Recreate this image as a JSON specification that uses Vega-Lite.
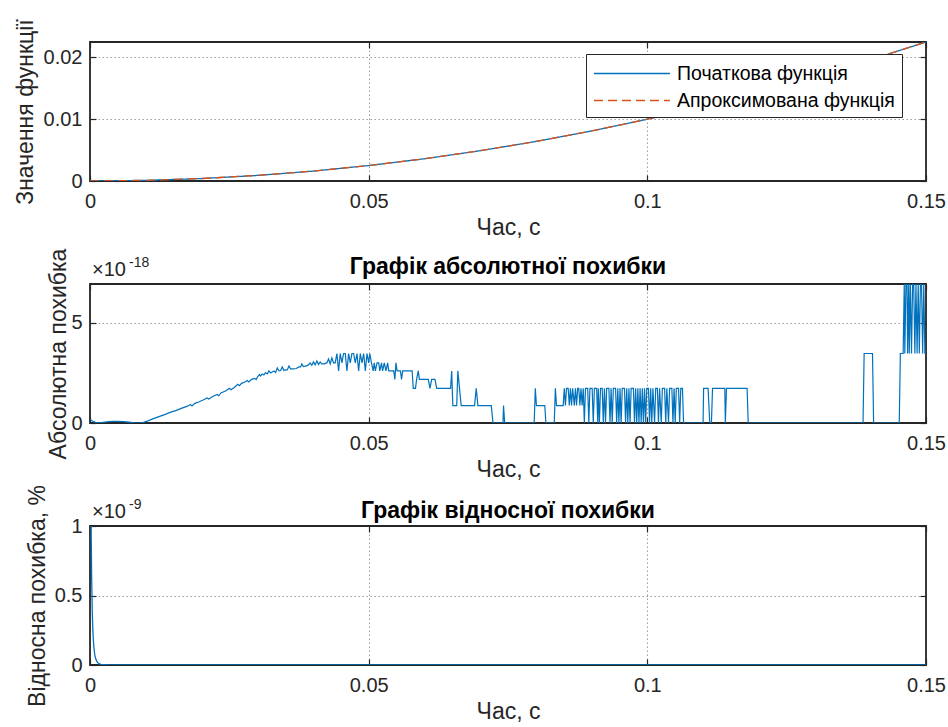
{
  "$schema": "https://vega.github.io/schema/vega-lite/v6.json",
  "background": "white",
  "padding": {"left": 13, "top": 14, "right": 2, "bottom": 2},
  "bounds": "flush",
  "spacing": 103,
  "config": {
    "font": "Liberation Sans",
    "view": {"stroke": "#262626", "strokeWidth": 1.8},
    "axis": {
      "labelFont": "Liberation Sans", "labelFontSize": 20, "labelColor": "#262626",
      "titleFont": "Liberation Sans", "titleFontSize": 23, "titleFontWeight": "normal", "titleColor": "#262626",
      "domain": false, "ticks": true, "tickSize": -6, "tickColor": "#262626", "tickWidth": 1.2,
      "grid": true, "gridColor": "#262626", "gridOpacity": 0.45, "gridDash": [1.5, 2.5], "gridWidth": 1,
      "labelFlush": false, "labelOverlap": false, "labelLimit": 0
    },
    "axisX": {"labelPadding": 16, "titlePadding": 5},
    "axisY": {"labelPadding": 14},
    "legend": {"labelLimit": 0}
  },
  "datasets": {
    "fn": [
      {"t": 0, "value": 0, "series": "Початкова функція"},
      {"t": 0.01, "value": 0.0001, "series": "Початкова функція"},
      {"t": 0.02, "value": 0.0004, "series": "Початкова функція"},
      {"t": 0.03, "value": 0.0009, "series": "Початкова функція"},
      {"t": 0.04, "value": 0.0016, "series": "Початкова функція"},
      {"t": 0.05, "value": 0.0025, "series": "Початкова функція"},
      {"t": 0.06, "value": 0.0036, "series": "Початкова функція"},
      {"t": 0.07, "value": 0.0049, "series": "Початкова функція"},
      {"t": 0.08, "value": 0.0064, "series": "Початкова функція"},
      {"t": 0.09, "value": 0.0081, "series": "Початкова функція"},
      {"t": 0.1, "value": 0.01, "series": "Початкова функція"},
      {"t": 0.11, "value": 0.0121, "series": "Початкова функція"},
      {"t": 0.12, "value": 0.0144, "series": "Початкова функція"},
      {"t": 0.13, "value": 0.0169, "series": "Початкова функція"},
      {"t": 0.14, "value": 0.0196, "series": "Початкова функція"},
      {"t": 0.15, "value": 0.0225, "series": "Початкова функція"},
      {"t": 0, "value": 0, "series": "Апроксимована функція"},
      {"t": 0.01, "value": 0.0001, "series": "Апроксимована функція"},
      {"t": 0.02, "value": 0.0004, "series": "Апроксимована функція"},
      {"t": 0.03, "value": 0.0009, "series": "Апроксимована функція"},
      {"t": 0.04, "value": 0.0016, "series": "Апроксимована функція"},
      {"t": 0.05, "value": 0.0025, "series": "Апроксимована функція"},
      {"t": 0.06, "value": 0.0036, "series": "Апроксимована функція"},
      {"t": 0.07, "value": 0.0049, "series": "Апроксимована функція"},
      {"t": 0.08, "value": 0.0064, "series": "Апроксимована функція"},
      {"t": 0.09, "value": 0.0081, "series": "Апроксимована функція"},
      {"t": 0.1, "value": 0.01, "series": "Апроксимована функція"},
      {"t": 0.11, "value": 0.0121, "series": "Апроксимована функція"},
      {"t": 0.12, "value": 0.0144, "series": "Апроксимована функція"},
      {"t": 0.13, "value": 0.0169, "series": "Апроксимована функція"},
      {"t": 0.14, "value": 0.0196, "series": "Апроксимована функція"},
      {"t": 0.15, "value": 0.0225, "series": "Апроксимована функція"}
    ],
    "abs": [
      {"t": 0, "err": 0.17}, {"t": 0.0005, "err": 0.09}, {"t": 0.001, "err": 0.03}, {"t": 0.0015, "err": 0}, {"t": 0.002, "err": 0.02}, {"t": 0.003, "err": 0.06}, {"t": 0.004, "err": 0.08}, {"t": 0.005, "err": 0.08}, {"t": 0.006, "err": 0.07}, {"t": 0.007, "err": 0.04}, {"t": 0.008, "err": 0.01}, {"t": 0.0088, "err": 0},
      {"t": 0.0095, "err": 0.02}, {"t": 0.0105, "err": 0.12}, {"t": 0.0115, "err": 0.23}, {"t": 0.0125, "err": 0.33}, {"t": 0.0135, "err": 0.43}, {"t": 0.0145, "err": 0.54}, {"t": 0.0155, "err": 0.63}, {"t": 0.0165, "err": 0.74}, {"t": 0.0175, "err": 0.84}, {"t": 0.018, "err": 0.92}, {"t": 0.0183, "err": 0.85}, {"t": 0.0188, "err": 0.98}, {"t": 0.0195, "err": 1.05}, {"t": 0.0205, "err": 1.17}, {"t": 0.021, "err": 1.25}, {"t": 0.0213, "err": 1.2}, {"t": 0.022, "err": 1.32}, {"t": 0.0228, "err": 1.42}, {"t": 0.0231, "err": 1.36}, {"t": 0.0235, "err": 1.5}, {"t": 0.0245, "err": 1.62}, {"t": 0.025, "err": 1.73}, {"t": 0.0253, "err": 1.66}, {"t": 0.026, "err": 1.8}, {"t": 0.0265, "err": 1.93}, {"t": 0.0268, "err": 1.86}, {"t": 0.0272, "err": 1.98}, {"t": 0.0278, "err": 2.05}, {"t": 0.0282, "err": 2.12}, {"t": 0.0285, "err": 2.05}, {"t": 0.029, "err": 2.18}, {"t": 0.0295, "err": 2.23}, {"t": 0.0298, "err": 2.17},
      {"t": 0.0301, "err": 2.32}, {"t": 0.0304, "err": 2.42}, {"t": 0.0306, "err": 2.35}, {"t": 0.0309, "err": 2.45}, {"t": 0.0312, "err": 2.4}, {"t": 0.0315, "err": 2.52}, {"t": 0.0318, "err": 2.45}, {"t": 0.0321, "err": 2.6}, {"t": 0.0324, "err": 2.5}, {"t": 0.0327, "err": 2.55}, {"t": 0.033, "err": 2.6}, {"t": 0.0333, "err": 2.52}, {"t": 0.0336, "err": 2.75}, {"t": 0.0339, "err": 2.6}, {"t": 0.0342, "err": 2.62}, {"t": 0.0345, "err": 2.8}, {"t": 0.0348, "err": 2.62}, {"t": 0.0351, "err": 2.65}, {"t": 0.0354, "err": 2.65}, {"t": 0.0357, "err": 2.85}, {"t": 0.036, "err": 2.7}, {"t": 0.0365, "err": 2.7}, {"t": 0.037, "err": 2.72}, {"t": 0.0375, "err": 2.8}, {"t": 0.0378, "err": 2.8}, {"t": 0.038, "err": 2.95}, {"t": 0.0383, "err": 2.82}, {"t": 0.0388, "err": 2.85}, {"t": 0.0392, "err": 2.9}, {"t": 0.0395, "err": 3.0}, {"t": 0.0398, "err": 2.88}, {"t": 0.0401, "err": 3.05}, {"t": 0.0404, "err": 2.9}, {"t": 0.0407, "err": 3.1}, {"t": 0.041, "err": 2.92}, {"t": 0.0413, "err": 3.05}, {"t": 0.0416, "err": 2.95}, {"t": 0.042, "err": 2.95}, {"t": 0.0425, "err": 3.0}, {"t": 0.0428, "err": 3.2}, {"t": 0.0431, "err": 2.95}, {"t": 0.0434, "err": 3.25}, {"t": 0.0437, "err": 3.0}, {"t": 0.044, "err": 3.0}, {"t": 0.0443, "err": 3.47}, {"t": 0.0446, "err": 2.6}, {"t": 0.0449, "err": 3.47}, {"t": 0.0452, "err": 3.0}, {"t": 0.0455, "err": 3.47}, {"t": 0.0458, "err": 3.47}, {"t": 0.0461, "err": 2.6}, {"t": 0.0464, "err": 3.47}, {"t": 0.0467, "err": 3.0}, {"t": 0.047, "err": 3.47}, {"t": 0.0473, "err": 3.47}, {"t": 0.0476, "err": 3.0}, {"t": 0.0479, "err": 3.47}, {"t": 0.0482, "err": 2.6}, {"t": 0.0485, "err": 3.47}, {"t": 0.0488, "err": 3.0}, {"t": 0.0491, "err": 3.47}, {"t": 0.0494, "err": 2.6}, {"t": 0.0497, "err": 3.47}, {"t": 0.05, "err": 3.0}, {"t": 0.0502, "err": 3.47},
      {"t": 0.0505, "err": 3.0}, {"t": 0.0508, "err": 2.6}, {"t": 0.051, "err": 3.0}, {"t": 0.0512, "err": 2.6}, {"t": 0.0515, "err": 3.0}, {"t": 0.0518, "err": 3.0}, {"t": 0.052, "err": 2.6}, {"t": 0.0523, "err": 3.0}, {"t": 0.0525, "err": 2.6}, {"t": 0.0528, "err": 3.0}, {"t": 0.0531, "err": 2.6}, {"t": 0.0534, "err": 3.0}, {"t": 0.0536, "err": 2.6}, {"t": 0.0545, "err": 2.6}, {"t": 0.0547, "err": 2.18}, {"t": 0.0549, "err": 3.0}, {"t": 0.0551, "err": 2.6}, {"t": 0.0557, "err": 2.6}, {"t": 0.0559, "err": 2.18}, {"t": 0.0561, "err": 2.6}, {"t": 0.0578, "err": 2.6}, {"t": 0.058, "err": 1.73}, {"t": 0.0584, "err": 1.73}, {"t": 0.0586, "err": 2.18}, {"t": 0.0589, "err": 2.6}, {"t": 0.0591, "err": 2.18}, {"t": 0.0607, "err": 2.18}, {"t": 0.061, "err": 1.73}, {"t": 0.0613, "err": 2.18}, {"t": 0.0619, "err": 2.18}, {"t": 0.0622, "err": 1.73}, {"t": 0.0647, "err": 1.73}, {"t": 0.0649, "err": 2.6}, {"t": 0.0651, "err": 0.87}, {"t": 0.0658, "err": 0.87}, {"t": 0.066, "err": 2.6}, {"t": 0.0663, "err": 1.73}, {"t": 0.0666, "err": 0.87}, {"t": 0.069, "err": 0.87}, {"t": 0.0693, "err": 1.73}, {"t": 0.0696, "err": 0.87}, {"t": 0.072, "err": 0.87}, {"t": 0.0723, "err": 0}, {"t": 0.0741, "err": 0}, {"t": 0.0742, "err": 0.87}, {"t": 0.0744, "err": 0}, {"t": 0.0797, "err": 0}, {"t": 0.0799, "err": 1.73}, {"t": 0.0801, "err": 0.87}, {"t": 0.0816, "err": 0.87}, {"t": 0.0818, "err": 0}, {"t": 0.0833, "err": 0}, {"t": 0.0835, "err": 1.73}, {"t": 0.0837, "err": 0.87}, {"t": 0.0849, "err": 0.87},
      {"t": 0.0851, "err": 1.73}, {"t": 0.0853, "err": 0.87}, {"t": 0.0855, "err": 1.73}, {"t": 0.0858, "err": 1.73}, {"t": 0.086, "err": 0.87}, {"t": 0.0862, "err": 1.73}, {"t": 0.0864, "err": 0.87}, {"t": 0.0866, "err": 1.73}, {"t": 0.0869, "err": 0.87}, {"t": 0.0871, "err": 1.73}, {"t": 0.0873, "err": 0.87}, {"t": 0.0875, "err": 1.73}, {"t": 0.0877, "err": 1.73}, {"t": 0.0879, "err": 0.87}, {"t": 0.0881, "err": 1.73}, {"t": 0.0883, "err": 0.87}, {"t": 0.0885, "err": 1.73},
      {"t": 0.0887, "err": 0}, {"t": 0.0889, "err": 1.73}, {"t": 0.0893, "err": 1.73}, {"t": 0.0895, "err": 0}, {"t": 0.0897, "err": 1.73}, {"t": 0.0901, "err": 1.73}, {"t": 0.0903, "err": 0}, {"t": 0.0905, "err": 1.73}, {"t": 0.0909, "err": 1.73}, {"t": 0.0911, "err": 0}, {"t": 0.0912, "err": 1.73}, {"t": 0.0914, "err": 0}, {"t": 0.0916, "err": 1.73}, {"t": 0.0919, "err": 1.73}, {"t": 0.0921, "err": 0}, {"t": 0.0923, "err": 1.73}, {"t": 0.0925, "err": 0}, {"t": 0.0927, "err": 1.73}, {"t": 0.0931, "err": 1.73}, {"t": 0.0933, "err": 0}, {"t": 0.0935, "err": 1.73}, {"t": 0.0937, "err": 0}, {"t": 0.0939, "err": 1.73}, {"t": 0.0943, "err": 1.73}, {"t": 0.0945, "err": 0}, {"t": 0.0947, "err": 1.73}, {"t": 0.0949, "err": 0}, {"t": 0.0951, "err": 1.73}, {"t": 0.0953, "err": 0}, {"t": 0.0955, "err": 1.73}, {"t": 0.0959, "err": 1.73}, {"t": 0.0961, "err": 0}, {"t": 0.0963, "err": 1.73}, {"t": 0.0965, "err": 0}, {"t": 0.0967, "err": 1.73}, {"t": 0.0969, "err": 0}, {"t": 0.0971, "err": 1.73}, {"t": 0.0975, "err": 1.73}, {"t": 0.0977, "err": 0}, {"t": 0.0979, "err": 1.73}, {"t": 0.0981, "err": 0}, {"t": 0.0983, "err": 1.73}, {"t": 0.0985, "err": 0}, {"t": 0.0987, "err": 1.73}, {"t": 0.0989, "err": 0}, {"t": 0.0991, "err": 1.73}, {"t": 0.0993, "err": 0}, {"t": 0.0995, "err": 1.73}, {"t": 0.0997, "err": 0}, {"t": 0.0999, "err": 1.73}, {"t": 0.1002, "err": 1.73}, {"t": 0.1004, "err": 0}, {"t": 0.1006, "err": 1.73}, {"t": 0.1008, "err": 0}, {"t": 0.101, "err": 1.73}, {"t": 0.1013, "err": 0}, {"t": 0.1015, "err": 1.73}, {"t": 0.1018, "err": 1.73}, {"t": 0.102, "err": 0}, {"t": 0.1022, "err": 1.73}, {"t": 0.1025, "err": 0}, {"t": 0.1027, "err": 1.73}, {"t": 0.1031, "err": 1.73}, {"t": 0.1033, "err": 0}, {"t": 0.1035, "err": 1.73}, {"t": 0.1038, "err": 0}, {"t": 0.104, "err": 1.73}, {"t": 0.1044, "err": 1.73}, {"t": 0.1046, "err": 0}, {"t": 0.1048, "err": 1.73}, {"t": 0.105, "err": 0}, {"t": 0.1052, "err": 1.73}, {"t": 0.1056, "err": 1.73}, {"t": 0.1058, "err": 0}, {"t": 0.106, "err": 1.73}, {"t": 0.1063, "err": 1.73}, {"t": 0.1065, "err": 0},
      {"t": 0.11, "err": 0}, {"t": 0.1101, "err": 1.73}, {"t": 0.1109, "err": 1.73}, {"t": 0.1112, "err": 0}, {"t": 0.1115, "err": 0}, {"t": 0.1117, "err": 1.73}, {"t": 0.1139, "err": 1.73}, {"t": 0.114, "err": 0}, {"t": 0.1142, "err": 1.73}, {"t": 0.1179, "err": 1.73}, {"t": 0.1181, "err": 0}, {"t": 0.1387, "err": 0}, {"t": 0.1389, "err": 3.47}, {"t": 0.1404, "err": 3.47}, {"t": 0.1406, "err": 0}, {"t": 0.1452, "err": 0}, {"t": 0.1454, "err": 3.47}, {"t": 0.1459, "err": 3.47},
      {"t": 0.1461, "err": 6.94}, {"t": 0.1462, "err": 3.47}, {"t": 0.1464, "err": 6.94}, {"t": 0.1466, "err": 6.94}, {"t": 0.1467, "err": 3.47}, {"t": 0.1469, "err": 6.94}, {"t": 0.147, "err": 3.47}, {"t": 0.1472, "err": 6.94}, {"t": 0.1474, "err": 3.47}, {"t": 0.1476, "err": 6.94}, {"t": 0.1478, "err": 6.94}, {"t": 0.148, "err": 3.47}, {"t": 0.1482, "err": 6.94}, {"t": 0.1484, "err": 3.47}, {"t": 0.1486, "err": 6.94}, {"t": 0.1488, "err": 3.47}, {"t": 0.149, "err": 6.94}, {"t": 0.1492, "err": 6.94}, {"t": 0.1494, "err": 3.47}, {"t": 0.1496, "err": 6.94}, {"t": 0.1498, "err": 3.47}, {"t": 0.15, "err": 3.47}
    ],
    "rel": [
      {"t": 0.0002, "rel": 1.0}, {"t": 0.0003, "rel": 0.62}, {"t": 0.0004, "rel": 0.4}, {"t": 0.0005, "rel": 0.26}, {"t": 0.0006, "rel": 0.18}, {"t": 0.0007, "rel": 0.13}, {"t": 0.0008, "rel": 0.09}, {"t": 0.0009, "rel": 0.065}, {"t": 0.001, "rel": 0.048}, {"t": 0.0012, "rel": 0.028}, {"t": 0.0014, "rel": 0.016}, {"t": 0.0017, "rel": 0.008}, {"t": 0.002, "rel": 0.005}, {"t": 0.003, "rel": 0.002}, {"t": 0.005, "rel": 0.0007}, {"t": 0.01, "rel": 0.0002}, {"t": 0.03, "rel": 0.00003}, {"t": 0.05, "rel": 0.00001}, {"t": 0.1, "rel": 0.000003}, {"t": 0.15, "rel": 0.000001}
    ],
    "head2": [{"base": "×10", "power": "-18", "heading": "Графік абсолютної похибки"}],
    "head3": [{"base": "×10", "power": "-9", "heading": "Графік відносної похибки"}]
  },
  "vconcat": [
    {
      "width": 836, "height": 139,
      "resolve": {"axis": {"x": "independent", "y": "independent"}},
      "layer": [
        {
          "data": {"name": "fn"},
          "mark": {"type": "line", "strokeWidth": 1.3, "clip": true},
          "encoding": {
            "x": {"field": "t", "type": "quantitative", "scale": {"domain": [0, 0.15], "nice": false, "zero": false},
                  "axis": {"orient": "bottom", "values": [0, 0.05, 0.1, 0.15], "format": ".2~f", "title": "Час, с"}},
            "y": {"field": "value", "type": "quantitative", "scale": {"domain": [0, 0.0225], "nice": false},
                  "axis": {"orient": "left", "values": [0, 0.01, 0.02], "format": ".2~f", "title": "Значення  функції", "titlePadding": 6}},
            "color": {"field": "series", "type": "nominal",
                      "scale": {"domain": ["Початкова функція", "Апроксимована функція"], "range": ["#0072BD", "#D95319"]},
                      "legend": {"title": null, "orient": "none", "legendX": 496, "legendY": 12, "fillColor": "white", "strokeColor": "#262626", "padding": 7, "labelFontSize": 19.5, "labelColor": "black", "labelFont": "Liberation Sans", "labelLimit": 0, "symbolType": "M-1,0H5.6", "symbolSize": 529, "symbolStrokeWidth": 1.5, "rowPadding": 5, "labelOffset": 59}},
            "strokeDash": {"field": "series", "type": "nominal",
                      "scale": {"domain": ["Початкова функція", "Апроксимована функція"], "range": [[1, 0], [9, 5]]},
                      "legend": {"title": null, "orient": "none", "legendX": 496, "legendY": 12, "fillColor": "white", "strokeColor": "#262626", "padding": 7, "labelFontSize": 19.5, "labelColor": "black", "labelFont": "Liberation Sans", "labelLimit": 0, "symbolType": "M-1,0H5.6", "symbolSize": 529, "symbolStrokeWidth": 1.5, "rowPadding": 5, "labelOffset": 59}}
          }
        },
        {
          "data": {"name": "fn"},
          "mark": {"type": "point", "opacity": 0},
          "encoding": {
            "x": {"field": "t", "type": "quantitative", "axis": {"orient": "top", "values": [0, 0.05, 0.1, 0.15], "labels": false, "grid": false, "title": null}},
            "y": {"field": "value", "type": "quantitative", "axis": {"orient": "right", "values": [0, 0.01, 0.02], "labels": false, "grid": false, "title": null}}
          }
        }
      ]
    },
    {
      "width": 836, "height": 139,
      "resolve": {"axis": {"x": "independent", "y": "independent"}},
      "layer": [
        {
          "data": {"name": "abs"},
          "mark": {"type": "line", "strokeWidth": 1.2, "color": "#0072BD", "clip": true},
          "encoding": {
            "x": {"field": "t", "type": "quantitative", "scale": {"domain": [0, 0.15], "nice": false, "zero": false},
                  "axis": {"orient": "bottom", "values": [0, 0.05, 0.1, 0.15], "format": ".2~f", "title": "Час, с"}},
            "y": {"field": "err", "type": "quantitative", "scale": {"domain": [0, 6.94], "nice": false},
                  "axis": {"orient": "left", "values": [0, 5], "format": "~g", "title": "Абсолютна похибка", "titlePadding": 0}}
          }
        },
        {
          "data": {"name": "abs"},
          "mark": {"type": "point", "opacity": 0},
          "encoding": {
            "x": {"field": "t", "type": "quantitative", "axis": {"orient": "top", "values": [0, 0.05, 0.1, 0.15], "labels": false, "grid": false, "title": null}},
            "y": {"field": "err", "type": "quantitative", "axis": {"orient": "right", "values": [0, 5], "labels": false, "grid": false, "title": null}}
          }
        },
        {
          "data": {"name": "head2"},
          "mark": {"type": "text", "align": "left", "baseline": "alphabetic", "fontSize": 20, "color": "#262626", "dx": 2, "dy": -8},
          "encoding": {"x": {"datum": 0, "axis": null}, "y": {"datum": 6.94, "axis": null}, "text": {"field": "base"}}
        },
        {
          "data": {"name": "head2"},
          "mark": {"type": "text", "align": "left", "baseline": "alphabetic", "fontSize": 14, "color": "#262626", "dx": 39, "dy": -17},
          "encoding": {"x": {"datum": 0, "axis": null}, "y": {"datum": 6.94, "axis": null}, "text": {"field": "power"}}
        },
        {
          "data": {"name": "head2"},
          "mark": {"type": "text", "align": "center", "baseline": "alphabetic", "fontSize": 23, "fontWeight": "bold", "color": "black", "dy": -10},
          "encoding": {"x": {"datum": 0.075, "axis": null}, "y": {"datum": 6.94, "axis": null}, "text": {"field": "heading"}}
        }
      ]
    },
    {
      "width": 836, "height": 139,
      "resolve": {"axis": {"x": "independent", "y": "independent"}},
      "layer": [
        {
          "data": {"name": "rel"},
          "mark": {"type": "line", "strokeWidth": 1.3, "color": "#0072BD", "clip": true},
          "encoding": {
            "x": {"field": "t", "type": "quantitative", "scale": {"domain": [0, 0.15], "nice": false, "zero": false},
                  "axis": {"orient": "bottom", "values": [0, 0.05, 0.1, 0.15], "format": ".2~f", "title": "Час, с"}},
            "y": {"field": "rel", "type": "quantitative", "scale": {"domain": [0, 1], "nice": false},
                  "axis": {"orient": "left", "values": [0, 0.5, 1], "format": "~g", "title": "Відносна похибка, %", "titlePadding": 5}}
          }
        },
        {
          "data": {"name": "rel"},
          "mark": {"type": "point", "opacity": 0},
          "encoding": {
            "x": {"field": "t", "type": "quantitative", "axis": {"orient": "top", "values": [0, 0.05, 0.1, 0.15], "labels": false, "grid": false, "title": null}},
            "y": {"field": "rel", "type": "quantitative", "axis": {"orient": "right", "values": [0, 0.5, 1], "labels": false, "grid": false, "title": null}}
          }
        },
        {
          "data": {"name": "head3"},
          "mark": {"type": "text", "align": "left", "baseline": "alphabetic", "fontSize": 20, "color": "#262626", "dx": 2, "dy": -8},
          "encoding": {"x": {"datum": 0, "axis": null}, "y": {"datum": 1, "axis": null}, "text": {"field": "base"}}
        },
        {
          "data": {"name": "head3"},
          "mark": {"type": "text", "align": "left", "baseline": "alphabetic", "fontSize": 14, "color": "#262626", "dx": 39, "dy": -17},
          "encoding": {"x": {"datum": 0, "axis": null}, "y": {"datum": 1, "axis": null}, "text": {"field": "power"}}
        },
        {
          "data": {"name": "head3"},
          "mark": {"type": "text", "align": "center", "baseline": "alphabetic", "fontSize": 23, "fontWeight": "bold", "color": "black", "dy": -8},
          "encoding": {"x": {"datum": 0.075, "axis": null}, "y": {"datum": 1, "axis": null}, "text": {"field": "heading"}}
        }
      ]
    }
  ]
}
